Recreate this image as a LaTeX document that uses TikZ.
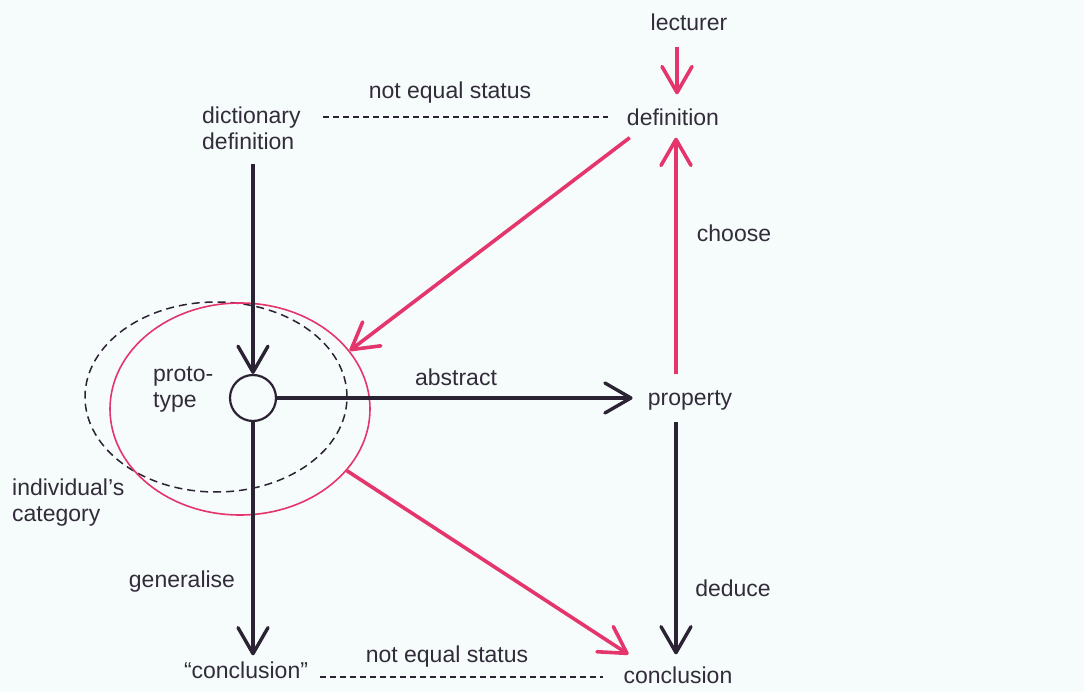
\documentclass[tikz,border=0pt]{standalone}
\usepackage{fontspec}
\setmainfont{Liberation Sans}
\usetikzlibrary{arrows.meta,shapes.geometric}
\definecolor{bg}{HTML}{F6FBFC}
\definecolor{pk}{HTML}{E5356D}
\definecolor{dk}{HTML}{2B2233}
\definecolor{tx}{HTML}{322C3A}
\begin{document}
\begin{tikzpicture}[x=1pt,y=-1pt,
  lbl/.style={text=tx, font=\fontsize{23}{26}\selectfont, inner sep=0pt},
  tip/.style={-{Straight Barb[length=26pt,width=30pt,round]}},
  blk/.style={draw=dk, line width=3.4pt, tip},
  pnk/.style={draw=pk, line width=3.6pt, tip},
  eq/.style={draw=dk, line width=1.5pt, dash pattern=on 6pt off 4pt}
]
\fill[bg] (0,0) rectangle (1084,692);
\useasboundingbox (0,0) rectangle (1084,692);

% nodes
\node[lbl] (lect) at (689,22) {lecturer};
\node[lbl] (def) at (673,117) {definition};
\node[lbl, align=left, anchor=west] (dict) at (202,128) {dictionary\\definition};
\node[lbl] (prop) at (690,400) {property};
\node[lbl] (concl) at (678,675) {conclusion};
\node[lbl] (qconcl) at (246,670) {“conclusion”};
\node[lbl, align=left, anchor=west] (proto) at (153,389) {proto-\\type};
\node[lbl, align=left, anchor=west] (indiv) at (12,503) {individual’s\\category};
\node[draw=dk, line width=2.2pt, circle, minimum size=46pt, inner sep=0pt] (c) at (253,398) {};

% ellipses
\node[ellipse, draw=dk, line width=1.5pt, dash pattern=on 8pt off 5pt,
      minimum width=262pt, minimum height=190pt, inner sep=0pt] (catdash) at (216,397) {};
\node[ellipse, draw=pk, line width=1.6pt,
      minimum width=260pt, minimum height=212pt, inner sep=0pt] (catpink) at (240,409) {};

% labels
\node[lbl] (neq1) at (450,93) {not equal status};
\node[lbl] (neq2) at (447,657) {not equal status};
\node[lbl] (abs) at (456,377) {abstract};
\node[lbl] (cho) at (734,233) {choose};
\node[lbl] (ded) at (733,588) {deduce};
\node[lbl] (gen) at (182,582) {generalise};

% dashed relations
\draw[eq] ([xshift=22pt]dict.east |- def.west) -- ([xshift=-19pt]def.west);
\draw[eq] ([xshift=12pt]qconcl.east |- 0,677) -- ([xshift=-20pt]concl.west |- 0,677);

% black arrows
\draw[blk] ([yshift=-14pt]dict.south -| c.north) -- (c.north);
\draw[blk] (c.east) -- ([xshift=-15pt]c.east -| prop.west);
\draw[blk] (c.south) -- ([yshift=6pt]c.south |- qconcl.north);
\draw[blk] ([xshift=-14pt,yshift=-12pt]prop.south) -- ([xshift=-2pt,yshift=12pt]concl.north);

% pink arrows
\draw[pnk] ([xshift=-12pt,yshift=-16pt]lect.south) -- ([xshift=4pt,yshift=14pt]def.north);
\draw[pnk] ([xshift=-14pt,yshift=16pt]prop.north) -- ([xshift=3pt,yshift=-12pt]def.south);
\draw[pnk] ([xshift=3pt,yshift=-12pt]def.south west) -- (catpink.28);
\draw[pnk] (catpink.-30) -- ([xshift=5pt,yshift=12pt]concl.north west);
\end{tikzpicture}
\end{document}
